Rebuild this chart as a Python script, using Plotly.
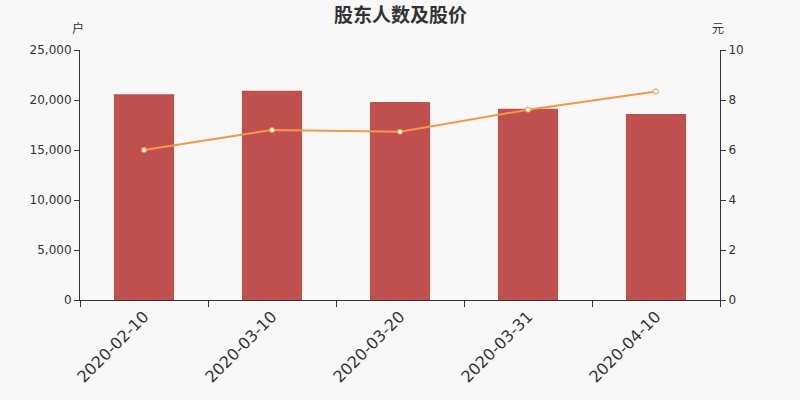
import plotly.graph_objects as go

dates = ["2020-02-10", "2020-03-10", "2020-03-20", "2020-03-31", "2020-04-10"]
holders = [20570, 20930, 19800, 19130, 18600]
price = [6.00, 6.80, 6.73, 7.61, 8.34]

BAR_COLOR = "#c0504d"
LINE_COLOR = "#f79646"
AXIS_COLOR = "#333333"
BG = "#f8f8f8"

fig = go.Figure()

fig.add_trace(
    go.Bar(
        x=dates,
        y=holders,
        marker=dict(color=BAR_COLOR, line=dict(width=0)),
        width=0.47,
        name="股东人数",
    )
)

fig.add_trace(
    go.Scatter(
        x=dates,
        y=price,
        yaxis="y2",
        mode="lines+markers",
        line=dict(color=LINE_COLOR, width=2),
        marker=dict(size=5, color="white", line=dict(color=LINE_COLOR, width=1)),
        name="股价",
    )
)

axis_font = dict(family="DejaVu Sans", size=12, color=AXIS_COLOR)
cjk_font = dict(family="Noto Sans CJK SC", size=12, color=AXIS_COLOR)

fig.update_layout(
    width=800,
    height=400,
    paper_bgcolor=BG,
    plot_bgcolor=BG,
    showlegend=False,
    margin=dict(l=80, r=80, t=50, b=100),
    xaxis=dict(
        type="category",
        automargin=False,
        tickson="boundaries",
        ticks="outside",
        ticklen=6,
        tickcolor=AXIS_COLOR,
        showline=True,
        linecolor=AXIS_COLOR,
        linewidth=1,
        showgrid=False,
        tickangle=-45,
        tickfont=dict(family="DejaVu Sans", size=16, color=AXIS_COLOR),
    ),
    yaxis=dict(
        range=[0, 25000],
        automargin=False,
        tickvals=[0, 5000, 10000, 15000, 20000, 25000],
        tickformat=",",
        ticks="outside",
        ticklen=5,
        tickcolor=AXIS_COLOR,
        showline=True,
        linecolor=AXIS_COLOR,
        showgrid=False,
        zeroline=False,
        tickfont=axis_font,
    ),
    yaxis2=dict(
        range=[0, 10],
        automargin=False,
        tickvals=[0, 2, 4, 6, 8, 10],
        overlaying="y",
        side="right",
        ticks="outside",
        ticklen=5,
        tickcolor=AXIS_COLOR,
        showline=True,
        linecolor=AXIS_COLOR,
        showgrid=False,
        zeroline=False,
        tickfont=axis_font,
    ),
    annotations=[
        dict(text="<b>股东人数及股价</b>", xref="paper", yref="paper",
             x=0.5, y=1.148, xanchor="center", yanchor="middle",
             showarrow=False,
             font=dict(family="Noto Sans CJK SC", size=19, color=AXIS_COLOR)),
        dict(text="户", xref="paper", yref="paper", x=-0.003, y=1.088,
             xanchor="center", yanchor="middle", showarrow=False,
             font=cjk_font),
        dict(text="元", xref="paper", yref="paper", x=0.997, y=1.088,
             xanchor="center", yanchor="middle", showarrow=False,
             font=cjk_font),
    ],
)

# page body has an 8px default margin; drop it so the figure sits at 0,0
fig.write_html(
    "out.html",
    config={"displayModeBar": False},
    post_script="document.body.style.margin='0px';",
)
